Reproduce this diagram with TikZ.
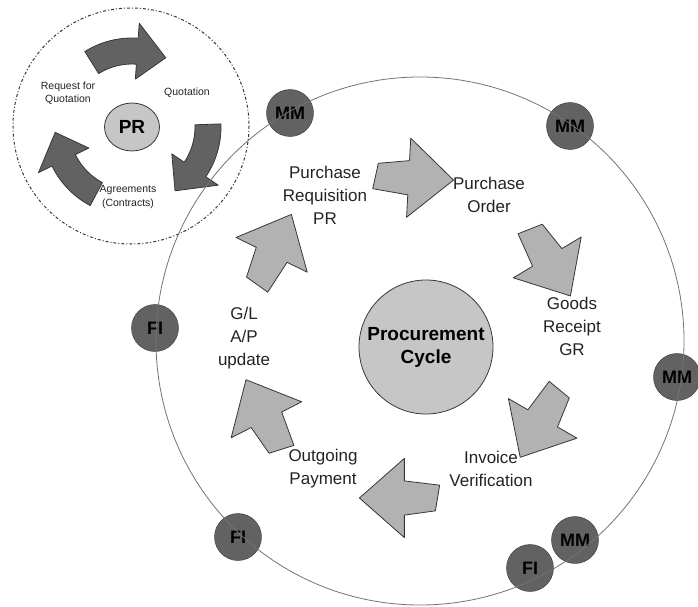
\documentclass[tikz,border=0pt]{standalone}
\usepackage{fontspec}
\setmainfont{Liberation Sans}
\usetikzlibrary{positioning, calc, shapes.geometric}
\definecolor{Ring}{RGB}{115,115,115}
\definecolor{Badge}{RGB}{98,98,98}
\definecolor{Edge}{RGB}{55,55,55}
\definecolor{BlockFill}{RGB}{178,178,178}
\definecolor{HubFill}{RGB}{198,198,198}
\definecolor{LoopFill}{RGB}{98,98,98}
\definecolor{Ink}{RGB}{35,35,35}

\tikzset{
  badge/.style={circle, draw=Edge, fill=Badge, minimum size=47pt, inner sep=0pt,
    font=\fontsize{18}{20}\selectfont\bfseries, text=black},
  steplabel/.style={align=center, font=\fontsize{17}{23}\selectfont, text=Ink},
  looplabel/.style={align=center, font=\fontsize{10.5}{13.5}\selectfont, text=Ink},
  blockarrow/.style={draw=Edge, fill=BlockFill, line width=0.8pt, line join=round},
  looparrow/.style={draw=Edge, fill=LoopFill, line width=0.8pt, line join=round}
}

% straight block arrow: centre, angle
\newcommand{\blockarrow}[2]{%
  \begin{scope}[shift={#1}, rotate=#2, scale=1.07]
    \draw[blockarrow] (37,0) -- (-5,37) -- (-5,16) -- (-38,12) -- (-34,-12) -- (-5,-16) -- (-5,-37) -- cycle;
  \end{scope}}

% curved arrow round PR: tail angle, tip angle
\newcommand{\looparrow}[2]{%
  \begin{scope}[shift={(pr.center)}, yscale=-1]
    \pgfmathsetmacro{\hb}{#2+22}
    \draw[looparrow] (#1:89) arc[start angle=#1, end angle=\hb, radius=89] -- (\hb:104) -- (#2:77)
      -- (\hb:48) -- (\hb:63) arc[start angle=\hb, end angle=#1, radius=63] -- cycle;
  \end{scope}}

\begin{document}
\begin{tikzpicture}[x=1pt, y=-1pt]
  \useasboundingbox (0,0) rectangle (698,607);

  % PR sub cycle
  \node[ellipse, draw=Edge, fill=HubFill, line width=0.8pt, minimum width=55pt, minimum height=48pt,
    inner sep=0pt, font=\fontsize{19}{22}\selectfont\bfseries, text=black] (pr) at (132,127) {PR};
  \looparrow{122}{64}
  \looparrow{2}{-56}
  \looparrow{242}{184}
  \node[looplabel] (rfq) at (68,93) {Request for\\Quotation};
  \node[looplabel] (quot) at (187,93) {Quotation};
  \node[looplabel] (agree) at (128,197) {Agreements\\(Contracts)};
  \draw[Edge, line width=1pt, dash pattern=on 3pt off 2pt on 1pt off 2pt] (131,126) circle[radius=118];

  % Procurement cycle
  \node[circle, draw=Edge, fill=HubFill, line width=0.8pt, minimum size=134pt, inner sep=0pt,
    align=center, font=\fontsize{19}{23}\selectfont\bfseries, text=black] (hub) at (426,347) {Procurement\\Cycle};

  \node[steplabel] (preq) at (325,195) {Purchase\\Requisition\\PR};
  \node[steplabel] (po) at (489,195) {Purchase\\Order};
  \node[steplabel] (gr) at (572,326) {Goods\\Receipt\\GR};
  \node[steplabel] (iv) at (491,469) {Invoice\\Verification};
  \node[steplabel] (op) at (323,469) {Outgoing\\Payment};
  \node[steplabel] (gl) at (244,338) {G/L\\A/P\\update};

  \blockarrow{(414,178)}{-3}
  \blockarrow{(550,262)}{-59}
  \blockarrow{(540,423)}{-120}
  \blockarrow{(399,498)}{180}
  \blockarrow{(264,415)}{117}
  \blockarrow{(274,250)}{64}

  % Modules on the ring
  \node[badge] (mm1) at (290,113) {MM};
  \node[badge] (mm2) at (570,126) {MM};
  \node[badge] (mm3) at (677,377) {MM};
  \node[badge] (mm4) at (575,540) {MM};
  \node[badge] (fi1) at (530,568) {FI};
  \node[badge] (fi2) at (155,328) {FI};
  \node[badge] (fi3) at (238,537) {FI};
  \draw[Ring, line width=0.8pt] (420,341) circle[radius=264];
\end{tikzpicture}
\end{document}
